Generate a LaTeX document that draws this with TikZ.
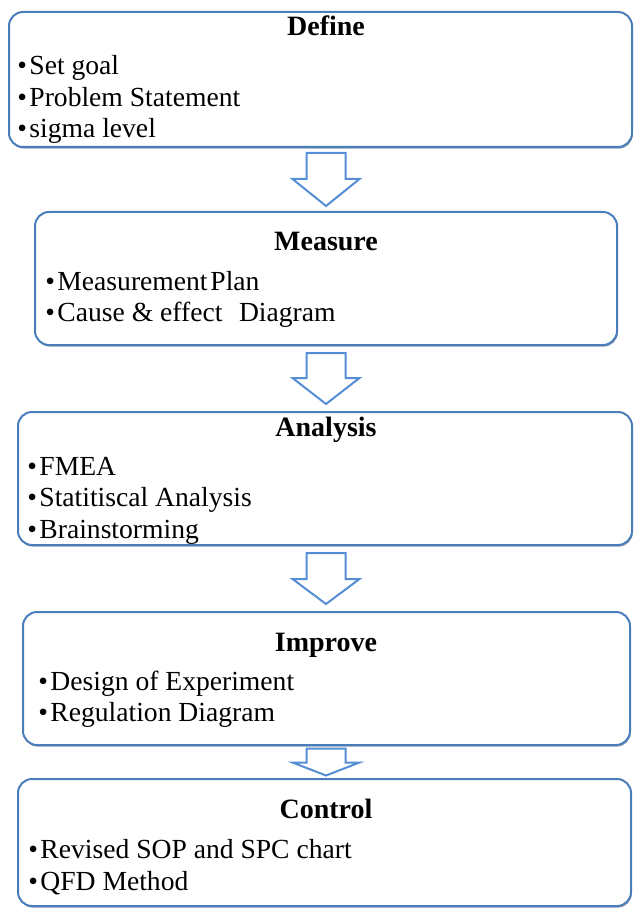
\documentclass[tikz,border=0pt]{standalone}
\usepackage{fontspec}
\setmainfont{Liberation Serif}
\usetikzlibrary{calc,shadows}

\definecolor{boxblue}{RGB}{74,126,187}
\definecolor{arrowblue}{RGB}{85,142,213}

% block arrow from one phase box down to the next: #1 upper box, #2 lower box, #3 gap, #4 head length
\newcommand{\flowarrow}[4]{%
	\draw[flowline] ($(#1.south -| axis)+(-19.5,#3)$) -- ($(#1.south -| axis)+(19.5,#3)$)
		-- ($(#2.north -| axis)+(19.5,-#3-#4)$) -- ($(#2.north -| axis)+(33.5,-#3-#4)$)
		-- ($(#2.north -| axis)+(0,-#3)$) -- ($(#2.north -| axis)+(-33.5,-#3-#4)$)
		-- ($(#2.north -| axis)+(-19.5,-#3-#4)$) -- cycle;}

\begin{document}
\begin{tikzpicture}[x=0.5pt,y=-0.5pt,
	font=\fontsize{13.8}{16}\selectfont,
	phase/.style={draw=boxblue,line width=1pt,fill=white,rounded corners=7pt,inner sep=0pt,outer sep=0pt,
		drop shadow={shadow xshift=0.4pt,shadow yshift=-0.8pt,opacity=0.5,fill=boxblue!50!black}},
	title/.style={anchor=base,inner sep=0pt,font=\fontsize{14}{16}\selectfont\bfseries},
	item/.style={anchor=base west,inner sep=0pt},
	flowline/.style={draw=arrowblue,line width=1pt,fill=white,line join=miter}]
	\useasboundingbox (0,0) rectangle (633,909);
	\coordinate (axis) at (326,0);

	\node[phase,minimum width=311.5pt,minimum height=67.5pt] (define) at (320.5,79.5) {};
	\node[title] (definetitle) at (326,36) {Define};
	\foreach \t [count=\i] in {Set goal,Problem Statement,sigma level}
		\node[item] (define\i) at (17,{75+31.5*(\i-1)}) {•\kern1.2pt\t};

	\node[phase,minimum width=291pt,minimum height=66.5pt] (measure) at (326,278.5) {};
	\node[title] (measuretitle) at (326,250) {Measure};
	\foreach \t [count=\i] in {Measurement\hspace{0.1em}Plan,Cause \& effect\hspace{0.6em}Diagram}
		\node[item] (measure\i) at (45,{290+31*(\i-1)}) {•\kern1.2pt\t};

	\node[phase,minimum width=307pt,minimum height=66.5pt] (analysis) at (325,478.5) {};
	\node[title] (analysistitle) at (326,436) {Analysis};
	\foreach \t [count=\i] in {FMEA,Statitiscal Analysis,Brainstorming}
		\node[item] (analysis\i) at (27,{475+31.5*(\i-1)}) {•\kern1.2pt\t};

	\node[phase,minimum width=303.5pt,minimum height=66.5pt] (improve) at (326.5,678.5) {};
	\node[title] (improvetitle) at (326,651) {Improve};
	\foreach \t [count=\i] in {Design of Experiment,Regulation Diagram}
		\node[item] (improve\i) at (38,{690+31*(\i-1)}) {•\kern1.2pt\t};

	\node[phase,minimum width=306.5pt,minimum height=63.5pt] (control) at (324.5,842.5) {};
	\node[title] (controltitle) at (326,818) {Control};
	\foreach \t [count=\i] in {Revised SOP and SPC chart,QFD Method}
		\node[item] (control\i) at (28,{858+32*(\i-1)}) {•\kern1.2pt\t};

	\flowarrow{define}{measure}{6}{27}
	\flowarrow{measure}{analysis}{8}{26}
	\flowarrow{analysis}{improve}{8}{25}
	\flowarrow{improve}{control}{3.5}{13}
\end{tikzpicture}
\end{document}
